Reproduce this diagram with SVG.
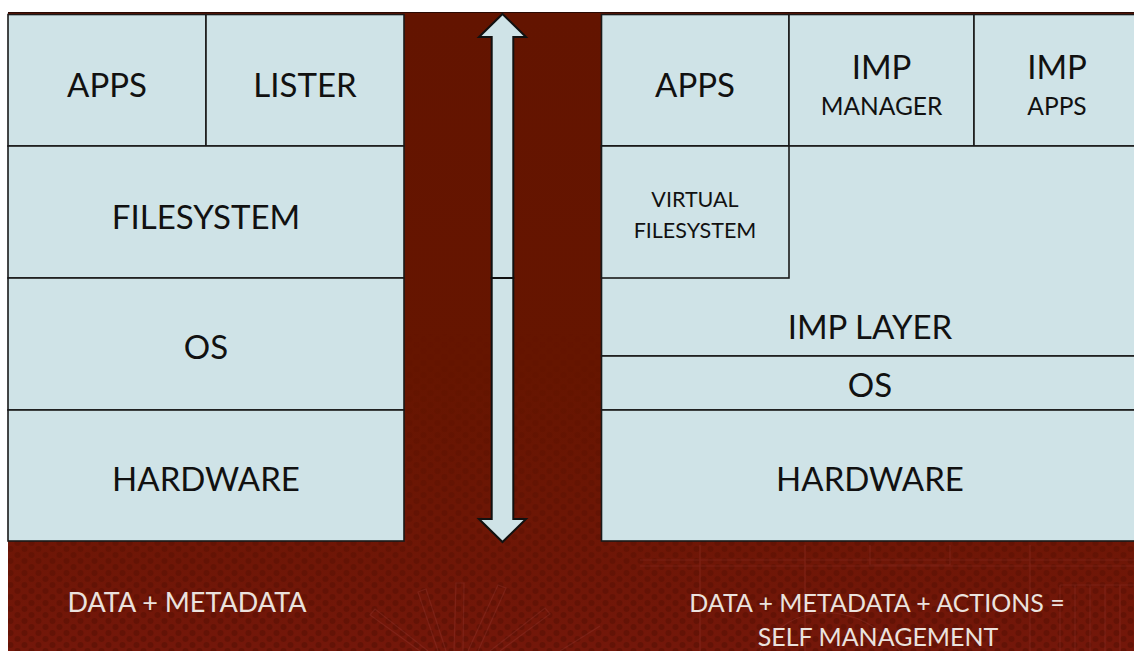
<svg xmlns="http://www.w3.org/2000/svg" width="1134" height="651" viewBox="0 0 1134 651">
  <defs>
    <style>
      .box { fill: #cfe3e7; stroke: #1a1a1a; stroke-width: 1.6; }
      .arrow { fill: #cfe3e7; stroke: #111; stroke-width: 2; stroke-linejoin: miter; }
      .lbl { font-family: Lato, "Liberation Sans", sans-serif; fill: #111; text-anchor: middle; }
      .big { font-size: 33px; }
      .mid { font-size: 24.5px; }
      .small { font-size: 21.5px; }
      .caption { font-family: Lato, "Liberation Sans", sans-serif; font-size: 25px; fill: #ebe2de; text-anchor: middle; }
      .sketch { fill: none; stroke: #a0403a; stroke-width: 1.2; opacity: 0.28; }
    </style>
    <linearGradient id="bgGrad" x1="0" y1="0" x2="0" y2="1">
      <stop offset="0" stop-color="#631400"/>
      <stop offset="0.55" stop-color="#661500"/>
      <stop offset="1" stop-color="#74170a"/>
    </linearGradient>
    <pattern id="dots" width="14" height="12" patternUnits="userSpaceOnUse">
      <circle cx="3.5" cy="3" r="3" fill="#3f0a00"/>
      <circle cx="10.5" cy="9" r="3" fill="#3f0a00"/>
    </pattern>
    <linearGradient id="fadeGrad" x1="0" y1="0" x2="0" y2="1">
      <stop offset="0" stop-color="#fff" stop-opacity="0"/>
      <stop offset="0.45" stop-color="#fff" stop-opacity="0.5"/>
      <stop offset="1" stop-color="#fff" stop-opacity="1"/>
    </linearGradient>
    <mask id="fadeMask">
      <rect x="8" y="330" width="1126" height="321" fill="url(#fadeGrad)"/>
    </mask>
  </defs>

  <!-- page and slide background -->
  <rect x="0" y="0" width="1134" height="651" fill="#ffffff"/>
  <rect x="8" y="12.5" width="1126" height="638.5" fill="url(#bgGrad)"/>
  <line x1="8" y1="12.5" x2="1134" y2="12.5" stroke="#2a0a04" stroke-width="1.2"/>
  <rect x="8" y="330" width="1126" height="321" fill="url(#dots)" opacity="0.3" mask="url(#fadeMask)"/>

  <!-- faint line drawing in the lower background -->
  <g class="sketch">
    <path d="M468 651 L498 585 L506 588 L478 651"/>
    <path d="M454 651 L456 583 L464 583 L463 651"/>
    <path d="M438 651 L418 592 L426 589 L446 651"/>
    <path d="M490 651 L545 608 L550 614 L500 651"/>
    <path d="M420 651 L370 615 L375 609 L428 651"/>
    <path d="M560 651 L600 626"/>
    <path d="M640 560 L1134 560"/>
    <path d="M640 566 L1134 566"/>
    <path d="M700 545 L700 651"/>
    <path d="M805 545 L805 651"/>
    <path d="M1030 545 L1030 651"/>
    <path d="M870 545 L870 565 L950 565 L950 545"/>
    <path d="M1060 585 L1134 585 M1060 585 L1060 651"/>
    <path d="M1075 585 L1075 651 M1090 585 L1090 651 M1105 585 L1105 651 M1120 585 L1120 651"/>
    <path d="M760 651 C790 600 860 600 900 651"/>
  </g>

  <!-- left stack -->
  <g id="left-apps"><rect class="box" x="8" y="14.5" width="198" height="131.5"/><text class="lbl big" x="107" y="97">APPS</text></g>
  <g id="left-lister"><rect class="box" x="206" y="14.5" width="198" height="131.5"/><text class="lbl big" x="305" y="97">LISTER</text></g>
  <g id="left-filesystem"><rect class="box" x="8" y="146" width="396" height="132"/><text class="lbl big" x="206" y="229">FILESYSTEM</text></g>
  <g id="left-os"><rect class="box" x="8" y="278" width="396" height="132"/><text class="lbl big" x="206" y="359">OS</text></g>
  <g id="left-hardware"><rect class="box" x="8" y="410" width="396" height="131"/><text class="lbl big" x="206" y="491">HARDWARE</text></g>

  <!-- two-way arrow between the stacks -->
  <g id="connectors">
    <path class="arrow" d="M502.5 14 L526 37 L513.3 37 L513.3 278 L491.7 278 L491.7 37 L479 37 Z"/>
    <path class="arrow" d="M491.7 278 L513.3 278 L513.3 519 L526 519 L502.5 542 L479 519 L491.7 519 Z"/>
  </g>

  <!-- right stack -->
  <g id="right-apps"><rect class="box" x="601.5" y="14.5" width="187.5" height="131.5"/><text class="lbl big" x="695" y="97">APPS</text></g>
  <g id="right-imp-manager"><rect class="box" x="789" y="14.5" width="185" height="131.5"/><text class="lbl big" x="881.5" y="79">IMP</text><text class="lbl mid" x="881.5" y="115">MANAGER</text></g>
  <g id="right-imp-apps"><rect class="box" x="974" y="14.5" width="166" height="131.5"/><text class="lbl big" x="1057" y="79">IMP</text><text class="lbl mid" x="1057" y="115">APPS</text></g>
  <g id="right-imp-layer"><rect class="box" x="601.5" y="146" width="538.5" height="210"/><text class="lbl big" x="870" y="339">IMP LAYER</text></g>
  <g id="right-virtual-fs"><rect class="box" x="601.5" y="146" width="187.5" height="132"/><text class="lbl small" x="695" y="207">VIRTUAL</text><text class="lbl small" x="695" y="238">FILESYSTEM</text></g>
  <g id="right-os"><rect class="box" x="601.5" y="356" width="538.5" height="54"/><text class="lbl big" x="870" y="397">OS</text></g>
  <g id="right-hardware"><rect class="box" x="601.5" y="410" width="538.5" height="131"/><text class="lbl big" x="870" y="491">HARDWARE</text></g>

  <!-- captions -->
  <g id="caption-left"><text class="caption" x="187" y="612" style="font-size:27px">DATA + METADATA</text></g>
  <g id="caption-right"><text class="caption" x="877" y="612">DATA + METADATA + ACTIONS =</text><text class="caption" x="878" y="646">SELF MANAGEMENT</text></g>
</svg>
